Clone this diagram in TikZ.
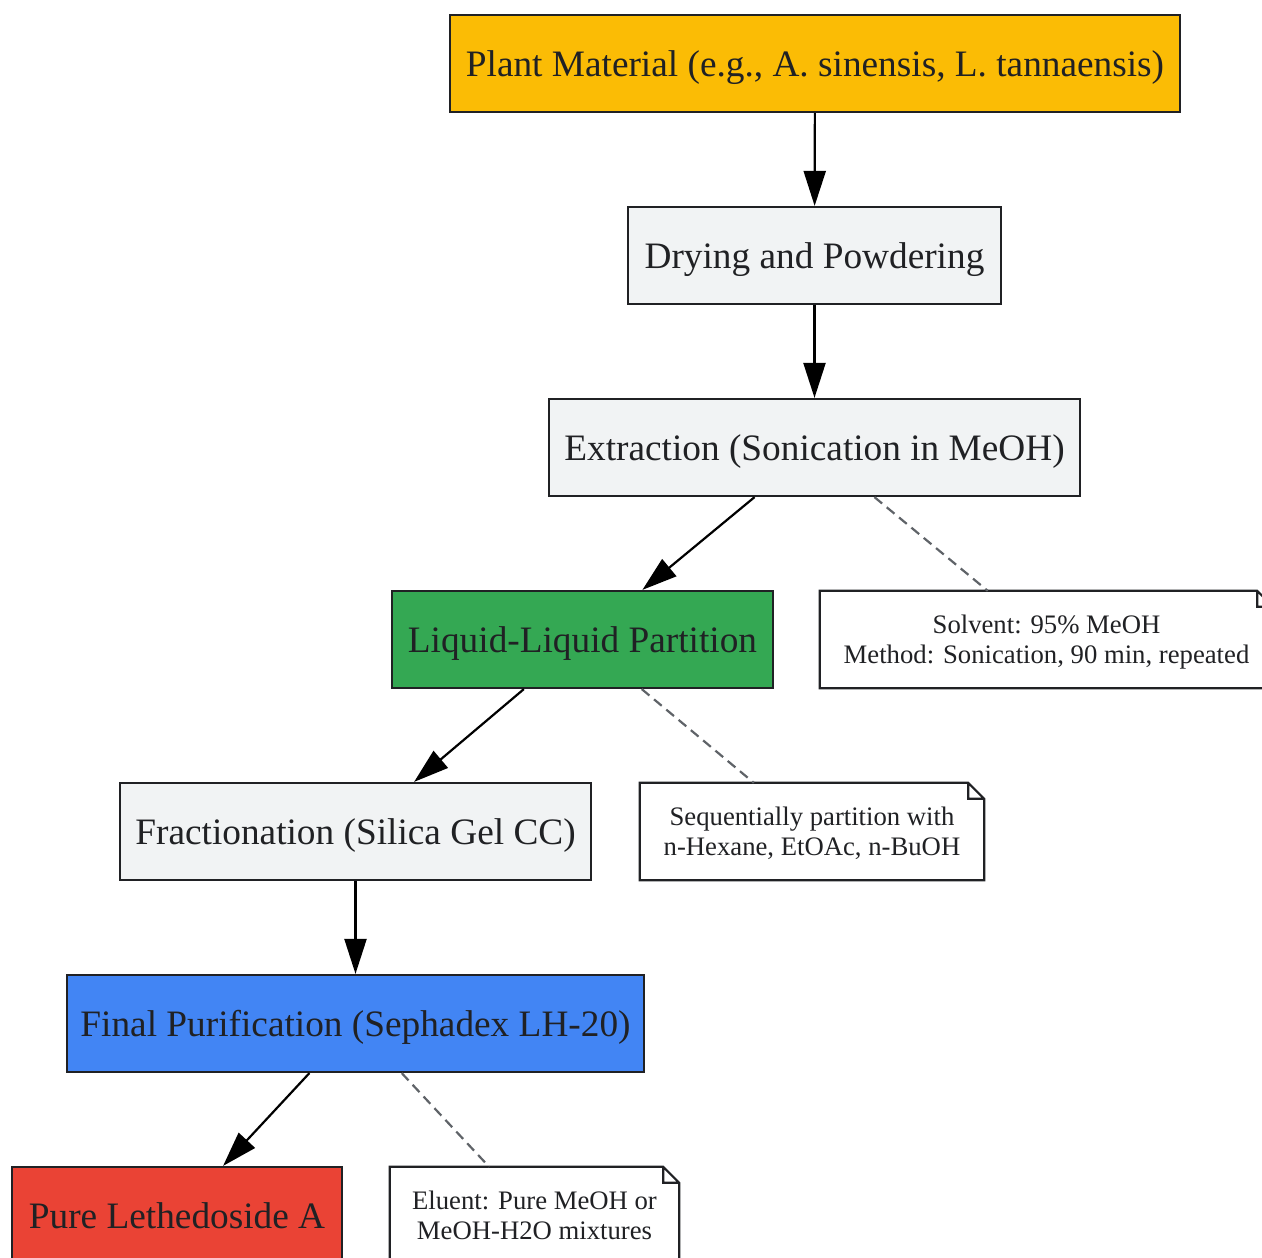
\documentclass[tikz,border=0pt]{standalone}
\usepackage{fontspec}
\setmainfont{Liberation Serif}
\usetikzlibrary{arrows.meta}

\definecolor{textdark}{HTML}{202124}
\definecolor{boxline}{HTML}{202124}
\definecolor{linkgrey}{HTML}{5F6368}
\definecolor{plainfill}{HTML}{F1F3F4}
\definecolor{plantfill}{HTML}{FBBC05}
\definecolor{partfill}{HTML}{34A853}
\definecolor{purifill}{HTML}{4285F4}
\definecolor{purefill}{HTML}{EA4335}

\tikzset{
  stepbox/.style={draw=boxline, line width=2.2pt, text=textdark, inner sep=0pt,
    text depth=0pt, minimum height=97pt, font=\fontsize{37.3}{44}\selectfont},
  notebox/.style={fill=white, text=textdark, inner sep=0pt, align=center,
    text depth=0pt, minimum height=97pt, font=\fontsize{26.7}{30}\selectfont},
  flow/.style={draw=black, line width=2.2pt, -{Triangle[length=35pt,width=22pt]}},
  link/.style={draw=linkgrey, line width=2.2pt, dash pattern=on 10pt off 6pt}
}

% note outline with folded corner
\newcommand\foldnote[1]{%
  \draw[boxline, line width=2.2pt]
    (#1.south west) -- (#1.north west) -- ([xshift=-16pt]#1.north east)
    -- ([yshift=-16pt]#1.north east) -- (#1.south east) -- cycle
    ([xshift=-16pt]#1.north east) |- ([yshift=-16pt]#1.north east);}

\begin{document}
\begin{tikzpicture}[x=1pt, y=-1pt]
  \path[use as bounding box] (0,0) rectangle (1262,1258);
  \clip (0,0) rectangle (1262,1258);

  % etapes
  \node[stepbox, fill=plantfill, minimum width=730pt] (plant) at (815,63.5)
    {Plant Material (e.g., A. sinensis, L. tannaensis)};
  \node[stepbox, fill=plainfill, minimum width=373pt] (dry) at (814.5,255.5)
    {Drying and Powdering};
  \node[stepbox, fill=plainfill, minimum width=531pt] (extr) at (814.5,447.5)
    {Extraction (Sonication in MeOH)};
  \node[stepbox, fill=partfill, minimum width=381pt] (part) at (582.5,639.5)
    {Liquid-Liquid Partition};
  \node[stepbox, fill=plainfill, minimum width=471pt] (frac) at (355.5,831.5)
    {Fractionation (Silica Gel CC)};
  \node[stepbox, fill=purifill, minimum width=577pt] (puri) at (355.5,1023.5)
    {Final Purification (Sephadex LH-20)};
  \node[stepbox, fill=purefill, minimum width=330pt] (pure) at (177,1215.5)
    {Pure Lethedoside A};

  % notes
  \node[notebox, minimum width=453pt] (extrnote) at (1046.5,639.5)
    {Solvent: 95\% MeOH\\Method: Sonication, 90 min, repeated};
  \node[notebox, minimum width=344pt] (partnote) at (812,831.5)
    {Sequentially partition with\\n-Hexane, EtOAc, n-BuOH};
  \node[notebox, minimum width=289pt] (purinote) at (534.5,1215.5)
    {Eluent: Pure MeOH or\\MeOH-H2O mixtures};
  \foldnote{extrnote}
  \foldnote{partnote}
  \foldnote{purinote}

  % fleches
  \draw[flow] (plant) -- (dry);
  \draw[flow] (dry) -- (extr);
  \draw[flow] (extr) -- (part);
  \draw[flow] (part) -- (frac);
  \draw[flow] (frac) -- (puri);
  \draw[flow] (puri) -- (pure);

  % liens vers les notes
  \draw[link] (extr) -- (extrnote);
  \draw[link] (part) -- (partnote);
  \draw[link] (puri) -- (purinote);
\end{tikzpicture}
\end{document}
